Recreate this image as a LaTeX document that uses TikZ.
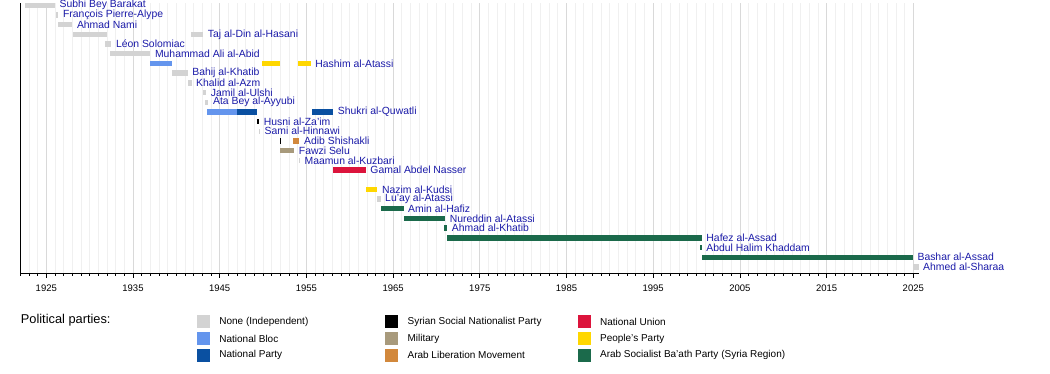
\documentclass[tikz,border=0pt]{standalone}
\usepackage{fontspec}
\setmainfont{Liberation Sans}
\usetikzlibrary{positioning}

\definecolor{indep}{HTML}{D3D3D3}
\definecolor{natbloc}{HTML}{6495ED}
\definecolor{natparty}{HTML}{0A50A1}
\definecolor{ssnp}{HTML}{000000}
\definecolor{military}{HTML}{A89A7C}
\definecolor{alm}{HTML}{D2883C}
\definecolor{natunion}{HTML}{DC143C}
\definecolor{peoples}{HTML}{FFD700}
\definecolor{baath}{HTML}{1B6A4B}
\definecolor{namecol}{HTML}{1A1AA8}

% year -> x, row -> y (in pt from the top left corner)
\newcommand{\yr}[1]{\fpeval{46.3+(#1-1925)*8.67}}
\newcommand{\rowy}[1]{\fpeval{5.3+(#1)*9.69}}

\begin{document}
\begin{tikzpicture}[x = 1pt, y = -1pt,
  who/.style = {anchor = west, inner sep = 0pt, text = namecol, font = \fontsize{10.4}{12}\selectfont},
  yearlab/.style = {inner sep = 0pt, font = \fontsize{9.5}{11}\selectfont},
  swatch/.style = {minimum size = 13pt, inner sep = 0pt},
  legtext/.style = {inner sep = 0pt, font = \fontsize{10}{12}\selectfont}]
  \useasboundingbox (0, 0) rectangle (1050, 373);

  % grid
  \foreach \yy in {1922,...,2025} \draw[gray!12, line width = 0.8] (\yr{\yy}, 3) -- (\yr{\yy}, 273);
  \foreach \yy in {1925,1935,...,2025} \draw[gray!30, line width = 0.8] (\yr{\yy}, 3) -- (\yr{\yy}, 273);

  % terms
  \foreach \r/\a/\b/\c in {0/1922.5/1926.0/indep, 1/1926.1/1926.4/indep, 2/1926.3/1928.0/indep,
      3/1928.1/1932.0/indep, 3/1941.7/1943.1/indep, 4/1931.8/1932.5/indep, 5/1932.4/1937.0/indep,
      6/1937.0/1939.5/natbloc, 6/1949.85/1952.0/peoples, 6/1954.0/1955.5/peoples,
      7/1939.5/1941.3/indep, 8/1941.3/1941.75/indep, 9/1943.05/1943.45/indep, 10/1943.3/1943.7/indep,
      11/1943.5/1947.0/natbloc, 11/1947.0/1949.3/natparty, 11/1955.6/1958.1/natparty,
      12/1949.3/1949.55/ssnp, 13/1949.55/1949.65/indep, 14/1951.9/1952.05/ssnp, 14/1953.5/1954.2/alm,
      15/1951.95/1953.6/military, 16/1954.1/1954.25/indep, 17/1958.1/1961.85/natunion,
      19/1961.9/1963.2/peoples, 20/1963.1/1963.55/indep, 21/1963.55/1966.2/baath,
      22/1966.2/1971.0/baath, 23/1970.9/1971.25/baath, 24/1971.25/2000.6/baath,
      25/2000.45/2000.6/baath, 26/2000.6/2024.95/baath, 27/2024.95/2025.6/indep}
    \fill[\c] (\yr{\a}, \rowy{\r}-2.7) rectangle (\yr{\b}, \rowy{\r}+2.7);

  % names, after the last term
  \foreach \r/\e/\n/\t in {0/1926.0/subhi/Subhi Bey Barakat, 1/1926.4/alype/François Pierre-Alype,
      2/1928.0/nami/Ahmad Nami, 3/1943.1/hasani/Taj al-Din al-Hasani, 4/1932.5/solomiac/Léon Solomiac,
      5/1937.0/abid/Muhammad Ali al-Abid, 6/1955.5/atassi/Hashim al-Atassi, 7/1941.3/bkhatib/Bahij al-Khatib,
      8/1941.75/azm/Khalid al-Azm, 9/1943.45/ulshi/Jamil al-Ulshi, 10/1943.7/ayyubi/Ata Bey al-Ayyubi,
      11/1958.1/quwatli/Shukri al-Quwatli, 12/1949.55/zaim/Husni al-Za'im, 13/1949.65/hinnawi/Sami al-Hinnawi,
      14/1954.2/shishakli/Adib Shishakli, 15/1953.6/selu/Fawzi Selu, 16/1954.25/kuzbari/Maamun al-Kuzbari,
      17/1961.85/nasser/Gamal Abdel Nasser, 19/1963.2/kudsi/Nazim al-Kudsi, 20/1963.55/latassi/Lu'ay al-Atassi,
      21/1966.2/hafiz/Amin al-Hafiz, 22/1971.0/natassi/Nureddin al-Atassi, 23/1971.25/akhatib/Ahmad al-Khatib,
      24/2000.6/hafez/Hafez al-Assad, 25/2000.6/khaddam/Abdul Halim Khaddam,
      26/2024.95/bashar/Bashar al-Assad, 27/2025.6/sharaa/Ahmed al-Sharaa}
    \node[who] (\n) at (\yr{\e}+4.5, \rowy{\r}) {\t};

  % axes
  \draw[line width = 0.8] (\yr{1922}, 3) -- (\yr{1922}, 273) -- (\yr{2025.6}, 273);
  \foreach \yy in {1922,...,2025} \draw[line width = 0.8] (\yr{\yy}, 273) -- ++(0, 2.5);
  \foreach \yy in {1925,1935,...,2025} {
    \draw[line width = 0.8] (\yr{\yy}, 273) -- ++(0, 5);
    \node[yearlab] (y\yy) at (\yr{\yy}, 288) {\yy};
  }

  % legend
  \node[anchor = west, inner sep = 0pt, font = \fontsize{12.8}{14}\selectfont] (parties) at (20.7, 320) {Political parties:};
  \foreach \cx/\cy/\c/\t in {203.5/321.7/indep/None (Independent), 203.5/338.5/natbloc/National Bloc,
      203.5/355.3/natparty/National Party, 391.7/321.7/ssnp/Syrian Social Nationalist Party,
      391.7/338.5/military/Military, 391.7/355.3/alm/Arab Liberation Movement,
      584.2/321.7/natunion/National Union, 584.2/338.5/peoples/People's Party,
      584.2/355.3/baath/Arab Socialist Ba'ath Party (Syria Region)} {
    \node[swatch, fill = \c] (sw-\c) at (\cx, \cy) {};
    \node[legtext, right = 9pt of sw-\c] (lg-\c) {\t};
  }
\end{tikzpicture}
\end{document}
